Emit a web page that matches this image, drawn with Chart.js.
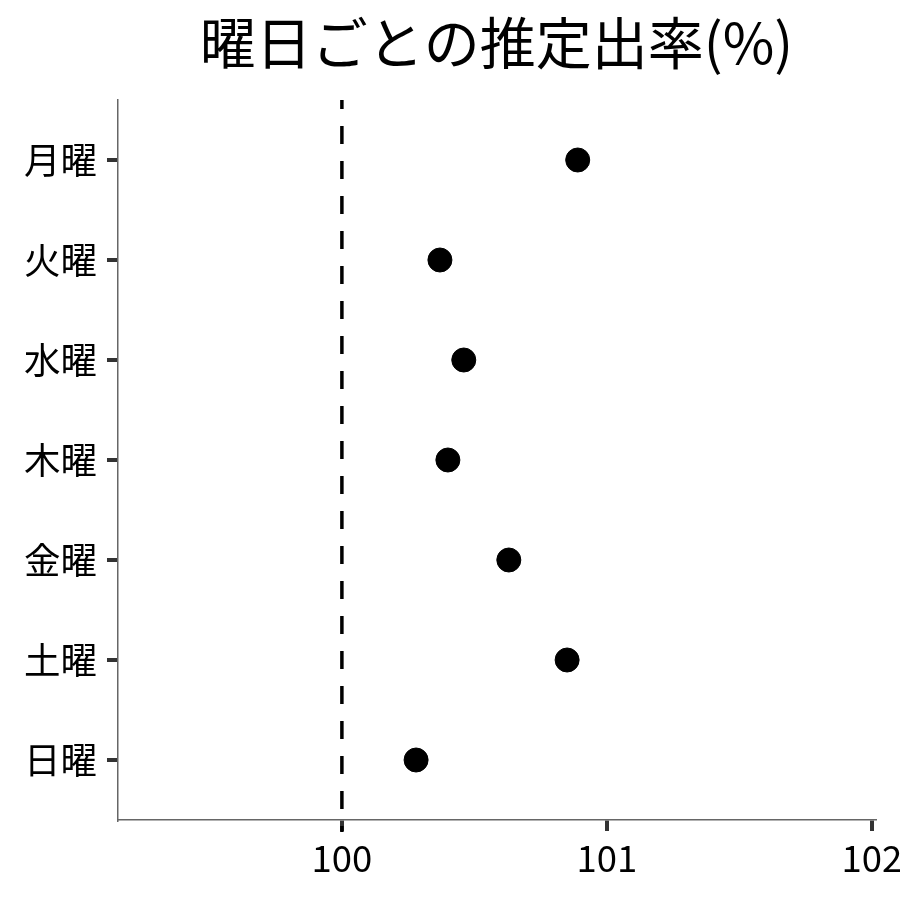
<!DOCTYPE html>
<html>
<head>
<meta charset="utf-8">
<script src="https://cdn.jsdelivr.net/npm/chart.js@4"></script>
<style>
  body { margin: 0; background: #fff; }
  #wrap { width: 900px; height: 900px; }
</style>
</head>
<body>
<div id="wrap"><canvas id="dotChart" width="900" height="900"></canvas></div>
<script>
const titleText = '曜日ごとの推定出率(%)';
const days = ['月曜', '火曜', '水曜', '木曜', '金曜', '土曜', '日曜'];
const rates = [100.89, 100.37, 100.46, 100.40, 100.63, 100.85, 100.28];
const xTicks = [100, 101, 102];
const refValue = 100;

const fontFamily = "'Noto Sans CJK JP', 'Noto Sans', sans-serif";

// vertical dashed reference line at 100
const refLine = {
    id: 'refLine',
    beforeDatasetsDraw(chart) {
        const ctx = chart.ctx;
        const x = chart.scales.x.getPixelForValue(refValue);
        const area = chart.chartArea;
        ctx.save();
        ctx.strokeStyle = '#000';
        ctx.lineWidth = 3.5;
        ctx.setLineDash([18, 17]);
        ctx.lineDashOffset = 9;
        ctx.beginPath();
        ctx.moveTo(x, area.top);
        ctx.lineTo(x, area.bottom + 12);
        ctx.stroke();
        ctx.restore();
    }
};

// title centred over the plot area
const plotTitle = {
    id: 'plotTitle',
    afterDraw(chart) {
        const ctx = chart.ctx;
        const area = chart.chartArea;
        ctx.save();
        ctx.fillStyle = '#000';
        ctx.font = '56px ' + fontFamily;
        ctx.textAlign = 'center';
        ctx.textBaseline = 'middle';
        ctx.fillText(titleText, (area.left + area.right) / 2, 43);
        ctx.restore();
    }
};

const tickGrid = {
    drawOnChartArea: false,
    drawTicks: true,
    tickLength: 11,
    color: '#333',
    lineWidth: 4,
    tickColor: '#333',
    tickWidth: 4
};

const ctx = document.getElementById('dotChart').getContext('2d');
const dotChart = new Chart(ctx, {
    type: 'scatter',
    data: {
        datasets: [{
            data: rates.map((v, i) => ({ x: v, y: i })),
            backgroundColor: '#000',
            borderColor: '#000',
            pointRadius: 12,
            pointHoverRadius: 12
        }]
    },
    options: {
        responsive: false,
        animation: false,
        layout: { padding: { left: 0, right: 25, top: 100, bottom: 0 } },
        plugins: {
            legend: { display: false },
            title: { display: false },
            tooltip: { enabled: false }
        },
        scales: {
            x: {
                type: 'linear',
                min: 99.155,
                max: 102.012,
                afterBuildTicks: (scale) => { scale.ticks = xTicks.map(v => ({ value: v })); },
                afterFit: (scale) => {
                    scale.height = 80;
                    scale.paddingLeft = 0;
                    scale.paddingRight = 0;
                },
                border: { display: true, color: '#666', width: 1.5 },
                grid: tickGrid,
                ticks: { color: '#000', font: { family: fontFamily, size: 36.5 }, padding: 5, maxRotation: 0 }
            },
            y: {
                type: 'linear',
                reverse: true,
                min: -0.6,
                max: 6.6,
                afterBuildTicks: (scale) => { scale.ticks = days.map((_, i) => ({ value: i })); },
                afterFit: (scale) => {
                    scale.width = 118;
                    scale.paddingTop = 0;
                    scale.paddingBottom = 0;
                },
                border: { display: true, color: '#666', width: 1.5 },
                grid: tickGrid,
                ticks: {
                    color: '#000',
                    font: { family: fontFamily, size: 36.5 },
                    padding: 10,
                    callback: (value) => days[value]
                }
            }
        }
    },
    plugins: [refLine, plotTitle]
});
</script>
</body>
</html>
